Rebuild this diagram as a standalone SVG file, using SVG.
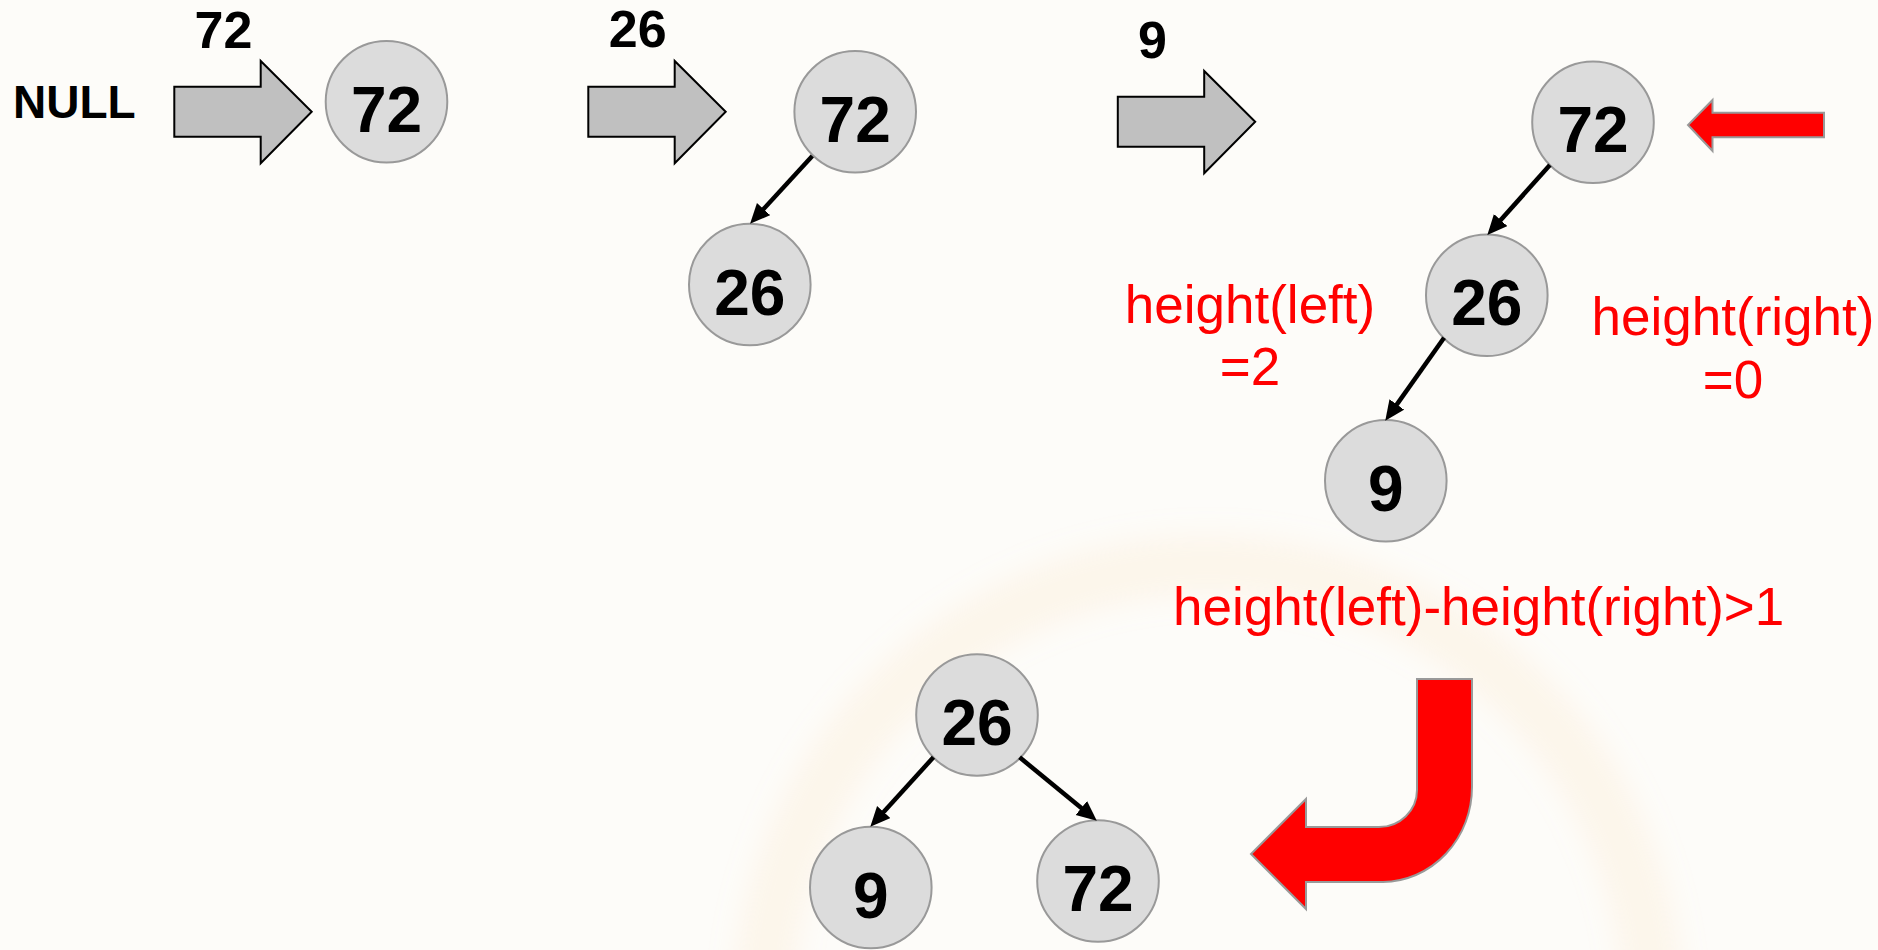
<svg xmlns="http://www.w3.org/2000/svg" width="1878" height="950" viewBox="0 0 1878 950">
  <style>
    .node circle { fill: #dcdcdc; stroke: #999999; stroke-width: 2; }
    .node text { font-family: "Liberation Sans", Arial, sans-serif; font-weight: bold; font-size: 64px; fill: #000; text-anchor: middle; }
    .label { font-family: "Liberation Sans", Arial, sans-serif; font-weight: bold; font-size: 52px; fill: #000; text-anchor: middle; }
    .note { font-family: "Liberation Sans", Arial, sans-serif; font-size: 53px; fill: #ff0000; text-anchor: middle; }
    .step { fill: #c0c0c0; stroke: #000; stroke-width: 2; stroke-linejoin: miter; }
    .hot { fill: #ff0000; stroke: #999999; stroke-width: 2; }
    .edges line { stroke: #000; stroke-width: 4.5; marker-end: url(#head); }
  </style>
  <defs>
    <marker id="head" markerUnits="userSpaceOnUse" markerWidth="22" markerHeight="20" refX="13" refY="9" orient="auto">
      <path d="M0,0 L20,9 L0,18 Z" fill="#000"/>
    </marker>
    <filter id="soft" filterUnits="userSpaceOnUse" x="0" y="0" width="1878" height="950">
      <feGaussianBlur stdDeviation="14"/>
    </filter>
    <polygon id="stepArrow" class="step" points="0,25.7 86.4,25.7 86.4,0 137.4,50.7 86.4,102.3 86.4,75.7 0,75.7"/>
  </defs>

  <!-- page background with faint watermark ring -->
  <rect x="0" y="0" width="1878" height="950" fill="#fdfcf9"/>
  <circle cx="1208" cy="1010" r="445" fill="none" stroke="#f7d6a8" stroke-opacity="0.17" stroke-width="60" filter="url(#soft)"/>

  <!-- step 1: insert 72 -->
  <text x="13" y="118" font-family="Liberation Sans, Arial, sans-serif" font-weight="bold" font-size="46" fill="#000">NULL</text>
  <text class="label" x="223.5" y="47.5">72</text>
  <use href="#stepArrow" x="174.3" y="61"/>
  <g id="n1-72" class="node">
    <circle cx="386.5" cy="101.7" r="60.8"/>
    <text x="386.5" y="131.7">72</text>
  </g>

  <!-- step 2: insert 26 -->
  <text class="label" x="637.7" y="46.7">26</text>
  <use href="#stepArrow" x="588.3" y="61"/>
  <g id="n2-72" class="node">
    <circle cx="855.2" cy="111.8" r="60.8"/>
    <text x="855.2" y="141.8">72</text>
  </g>
  <g id="n2-26" class="node">
    <circle cx="749.8" cy="284.5" r="60.8"/>
    <text x="749.8" y="314.5">26</text>
  </g>

  <!-- step 3: insert 9 -->
  <text class="label" x="1152.5" y="58">9</text>
  <use href="#stepArrow" x="1117.8" y="71"/>
  <g id="n3-72" class="node">
    <circle cx="1593" cy="122.2" r="60.8"/>
    <text x="1593" y="152.2">72</text>
  </g>
  <g id="n3-26" class="node">
    <circle cx="1486.8" cy="295.2" r="60.8"/>
    <text x="1486.8" y="325.2">26</text>
  </g>
  <g id="n3-9" class="node">
    <circle cx="1385.8" cy="480.8" r="60.8"/>
    <text x="1385.8" y="511">9</text>
  </g>

  <!-- unbalanced-node pointer -->
  <polygon id="pointer" class="hot" points="1824,112.7 1712.5,112.7 1712.5,100 1688,125 1712.5,151 1712.5,137.3 1824,137.3"/>

  <!-- balance annotations -->
  <text class="note" x="1250" y="322.7">height(left)</text>
  <text class="note" x="1250" y="385">=2</text>
  <text class="note" x="1733" y="335">height(right)</text>
  <text class="note" x="1733" y="398">=0</text>
  <text class="note" x="1173" y="625" style="text-anchor:start">height(left)-height(right)&gt;1</text>

  <!-- rotation arrow -->
  <path id="rotate" class="hot" d="M1417,679 H1472 V787 A90,95 0 0 1 1383,882 H1306 V909 L1251,854 L1306,799 V827 H1379 A38,37 0 0 0 1417,790 Z"/>

  <!-- rebalanced tree -->
  <g id="n4-26" class="node">
    <circle cx="977" cy="715" r="60.8"/>
    <text x="977" y="745">26</text>
  </g>
  <g id="n4-9" class="node">
    <circle cx="870.8" cy="887.5" r="60.8"/>
    <text x="870.8" y="918">9</text>
  </g>
  <g id="n4-72" class="node">
    <circle cx="1098" cy="881" r="60.8"/>
    <text x="1098" y="911">72</text>
  </g>

  <!-- parent-to-child links -->
  <g id="edges" class="edges">
    <line x1="812.3" y1="156" x2="754.8" y2="218.6"/>
    <line x1="1549.9" y1="165" x2="1492" y2="229.8"/>
    <line x1="1444.1" y1="337.7" x2="1389.3" y2="415.1"/>
    <line x1="933.4" y1="757.3" x2="875" y2="821.6"/>
    <line x1="1019.6" y1="757.3" x2="1091.4" y2="816.2"/>
  </g>
</svg>
